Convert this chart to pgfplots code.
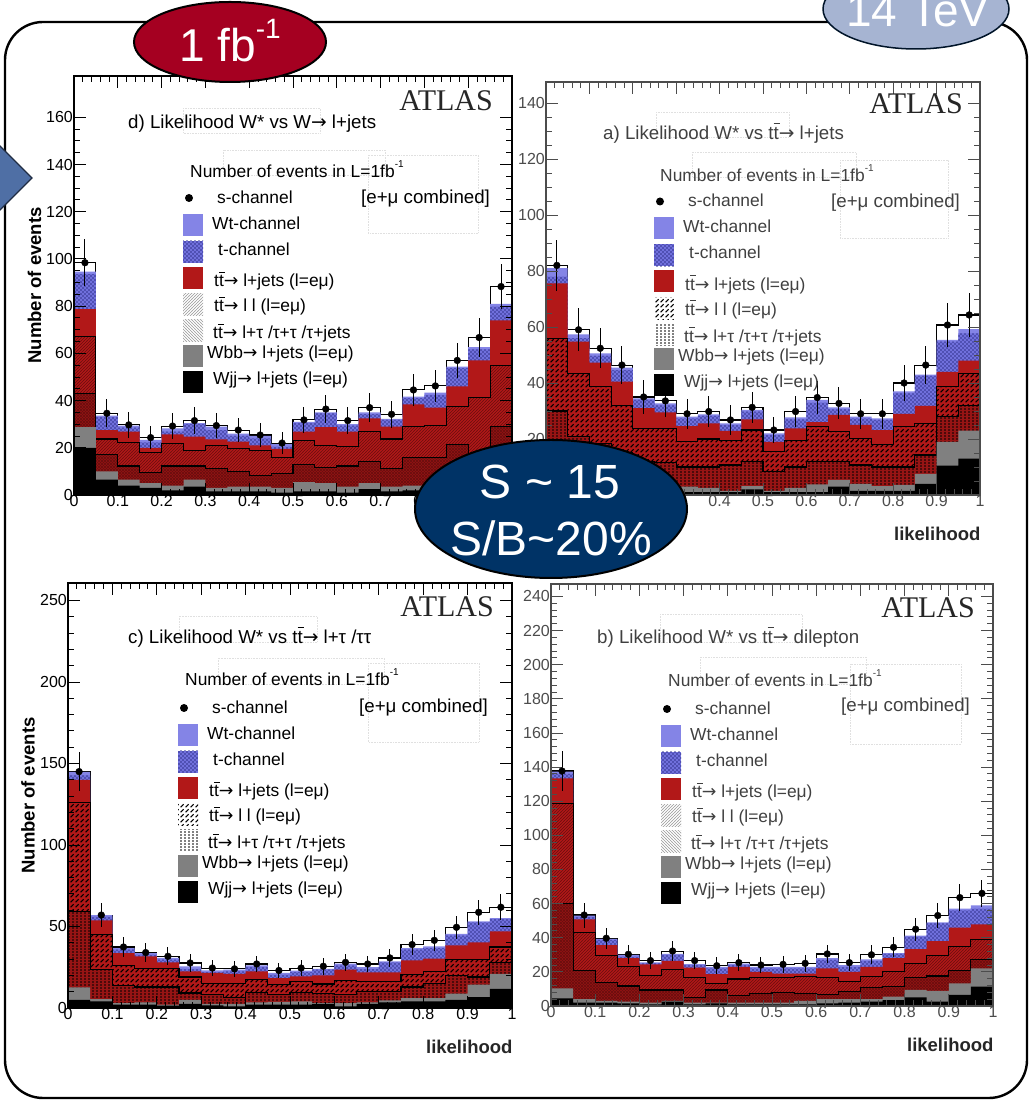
\documentclass[border=0pt]{standalone}
\usepackage{fontspec}
\setmainfont{Liberation Sans}
\newfontfamily\serifatlas{Liberation Serif}
\newfontfamily\djv{DejaVu Sans}
\usepackage{pgfplots}
\usepackage{pgfplotstable}
\pgfplotsset{compat=1.18}
\usetikzlibrary{patterns}
\definecolor{wtc}{HTML}{8484E6}
\definecolor{tc}{HTML}{7070DC}
\definecolor{tdot}{HTML}{30308A}
\definecolor{redc}{HTML}{B21818}
\definecolor{grayc}{HTML}{808080}
\definecolor{ovalred}{HTML}{A50021}
\definecolor{ovalblue}{HTML}{A6B4D2}
\definecolor{ovalnavy}{HTML}{003366}
\definecolor{arrowblue}{HTML}{4F6FA5}
\definecolor{hatchdark}{HTML}{6A0E0E}

\pgfdeclarepatternformonly{fineNE}{\pgfqpoint{-1pt}{-1pt}}{\pgfqpoint{4pt}{4pt}}{\pgfqpoint{3pt}{3pt}}{\pgfsetlinewidth{0.4pt}\pgfpathmoveto{\pgfqpoint{-0.2pt}{-0.2pt}}\pgfpathlineto{\pgfqpoint{3.2pt}{3.2pt}}\pgfusepath{stroke}}
\pgfdeclarepatternformonly{fineCross}{\pgfqpoint{-1pt}{-1pt}}{\pgfqpoint{4pt}{4pt}}{\pgfqpoint{3pt}{3pt}}{\pgfsetlinewidth{0.4pt}\pgfpathmoveto{\pgfqpoint{-0.2pt}{-0.2pt}}\pgfpathlineto{\pgfqpoint{3.2pt}{3.2pt}}\pgfpathmoveto{\pgfqpoint{-0.2pt}{3.2pt}}\pgfpathlineto{\pgfqpoint{3.2pt}{-0.2pt}}\pgfusepath{stroke}}
\pgfdeclarepatternformonly{fineNW}{\pgfqpoint{-1pt}{-1pt}}{\pgfqpoint{4pt}{4pt}}{\pgfqpoint{3pt}{3pt}}{\pgfsetlinewidth{0.55pt}\pgfpathmoveto{\pgfqpoint{-0.2pt}{3.2pt}}\pgfpathlineto{\pgfqpoint{3.2pt}{-0.2pt}}\pgfusepath{stroke}}
\pgfdeclarepatternformonly{dashNE}{\pgfqpoint{-1pt}{-1pt}}{\pgfqpoint{6pt}{6pt}}{\pgfqpoint{5pt}{5pt}}{\pgfsetlinewidth{1.1pt}\pgfpathmoveto{\pgfqpoint{0.6pt}{0.8pt}}\pgfpathlineto{\pgfqpoint{3.6pt}{3.8pt}}\pgfusepath{stroke}}
\pgfdeclarepatternformonly{dotGrid}{\pgfqpoint{-1pt}{-1pt}}{\pgfqpoint{5pt}{4pt}}{\pgfqpoint{4pt}{3pt}}{\pgfpathcircle{\pgfqpoint{1pt}{1pt}}{0.8pt}\pgfusepath{fill}}
\pgfdeclarepatternformonly{blueDots}{\pgfqpoint{-1pt}{-1pt}}{\pgfqpoint{5pt}{5pt}}{\pgfqpoint{4pt}{4pt}}{\pgfpathcircle{\pgfqpoint{1pt}{1pt}}{0.8pt}\pgfpathcircle{\pgfqpoint{3pt}{3pt}}{0.8pt}\pgfusepath{fill}}

% columns: bin left edge, then cumulative stack tops
\pgfplotstableread{
x wjj wbb tau ll red tch wt tot
0.00 20 28.7 43 67 78.7 93.6 94.6 98.4
0.05 6.5 10 17 23.7 27.5 33 33.6 34.6
0.10 4 6.5 12.3 22.3 26.8 28.5 29.4 29.7
0.15 3 5 9.5 18 20 22.3 23.3 24.3
0.20 2 4 12.3 22 25.7 26.8 28.2 29.2
0.25 3.5 6.5 12.3 19 24.7 30 30.4 31.5
0.30 1.5 3 11.3 21 23.6 27.5 29 29.4
0.35 1.5 3.5 10 19.8 22.6 25 26 27.5
0.40 1.5 3.5 8.2 18.8 21 24 25 25.4
0.45 1 3 9 15.8 19.5 20.5 21.5 22
0.50 1.5 5.5 13 23 26.8 30.4 31 31.8
0.55 1.5 5 11.7 21 28.7 34.6 35 36.4
0.60 1 3.5 12.3 20.5 26.8 29.4 30 31.5
0.65 2.5 5 14 27 32.5 34.3 35 37
0.70 1.5 3.5 11.3 23.7 29 31.8 32.2 34.2
0.75 2 4 15.8 29 38.4 41 41.7 44.5
0.80 2 4.5 15.8 29.5 37 42.4 43.4 46.2
0.85 3 7 21.5 37.4 46 53.7 54.4 57
0.90 5 9 17.7 41.4 57 61.7 62.6 66.7
0.95 8 14 29 54.7 74 79.8 81 88.3
1.00 8 14 29 54.7 74 79.8 81 88.3
}\tabd
\pgfplotstableread{
c v e
0.025 98.4 9.9
0.075 34.6 5.9
0.125 29.7 5.4
0.175 24.3 4.9
0.225 29.2 5.4
0.275 31.5 5.6
0.325 29.4 5.4
0.375 27.5 5.2
0.425 25.4 5.0
0.475 22 4.7
0.525 31.8 5.6
0.575 36.4 6.0
0.625 31.5 5.6
0.675 37 6.1
0.725 34.2 5.8
0.775 44.5 6.7
0.825 46.2 6.8
0.875 57 7.5
0.925 66.7 8.2
0.975 88.3 9.4
}\ptsd

\pgfplotstableread{
x wjj wbb tau ll red tch wt tot
0.00 4 10 30 56 75.6 78 81 82
0.05 3.5 8 21 43.5 54.8 56 57.4 59
0.10 3 6 18.5 38.7 47.3 49.7 50.6 52.4
0.15 2.5 5 15 32 40.5 44.6 45.5 46.4
0.20 2 4 12 23.8 31 34 34.5 35
0.25 1.5 3.5 11.5 23.8 29.5 32 32.7 33.6
0.30 1 3 10 19 24.6 27.4 28 29
0.35 1 2.5 10 20 25.6 28.3 28.8 29.8
0.40 1 1.5 10.7 19.4 22.9 25 25.6 26.8
0.45 2 3.2 12 23.2 27 29.8 30.4 31.3
0.50 1 1.5 8.3 15.5 19 21.4 22 23.2
0.55 1 2.5 10 19.6 23.8 27 27.7 29.8
0.60 1 3.8 12 24.4 26 33 34 34.8
0.65 3 5.4 12 22.6 28.6 30.6 31.3 32.7
0.70 1.5 4 10.7 20.2 25 27.4 28 29
0.75 1.5 3.2 10 17.9 23.2 26.8 27.4 29
0.80 1.5 3.6 10 24.4 29 36.3 37 40
0.85 4 7.5 14.3 25.6 31.8 42.5 43 46.4
0.90 10.5 19 28 38.7 44 54.8 55.4 60.7
0.95 13 23 32 43.5 48 57.7 59.2 64.3
1.00 13 23 32 43.5 48 57.7 59.2 64.3
}\taba
\pgfplotstableread{
c v e
0.025 82 9.1
0.075 59 7.7
0.125 52.4 7.2
0.175 46.4 6.8
0.225 35 5.9
0.275 33.6 5.8
0.325 29 5.4
0.375 29.8 5.5
0.425 26.8 5.2
0.475 31.3 5.6
0.525 23.2 4.8
0.575 29.8 5.5
0.625 34.8 5.9
0.675 32.7 5.7
0.725 29 5.4
0.775 29 5.4
0.825 40 6.3
0.875 46.4 6.8
0.925 60.7 7.8
0.975 64.3 8.0
}\ptsa

\pgfplotstableread{
x wjj wbb tau ll red tch wt tot
0.00 5 12.7 59 126 140 142.7 144.8 145
0.05 4 5.5 23.5 45 53.8 56 56.9 57
0.10 2 3 13.7 26.2 33.7 35.8 36.8 37.4
0.15 2 3.5 12.9 24.5 31.7 32.7 33.7 34
0.20 1.5 2 12.9 24.5 28 29.7 30.7 31.7
0.25 2.5 5 9.2 19 22.5 24 25.6 27.6
0.30 1.6 2.5 8.2 15.3 21.5 22 23.1 24.5
0.35 1 2.5 6.5 15.3 21 22.5 23.5 24
0.40 2 3.5 9.6 17.4 22.5 25 26.2 27
0.45 2 3.7 8.2 14.3 18.4 20.4 21.5 23
0.50 2 4 9.6 16.4 19.4 22 23 24.5
0.55 2.6 3 8.8 14.7 20 23.5 24 25.6
0.60 1 3 8.2 17 23.5 26 27.2 28
0.65 2.6 3.5 10.2 16.4 21.9 24 25 27
0.70 3.5 4.7 10.2 16.4 21.9 28 28.6 30.7
0.75 4 6 12.9 20.4 29.2 35.8 36.8 38.9
0.80 4 6 15.3 22.5 30.3 36.8 37.8 41.5
0.85 5 8.8 19.8 29.7 38.4 44.4 45.4 49.5
0.90 6.7 14.3 19 30 40.3 52.5 53.2 58.7
0.95 11.7 21 28 37.4 47 54.6 55.2 61.8
1.00 11.7 21 28 37.4 47 54.6 55.2 61.8
}\tabc
\pgfplotstableread{
c v e
0.025 145 12
0.075 57 7.5
0.125 37.4 6.1
0.175 34 5.8
0.225 31.7 5.6
0.275 27.6 5.3
0.325 24.5 4.9
0.375 24 4.9
0.425 27 5.2
0.475 23 4.8
0.525 24.5 4.9
0.575 25.6 5.1
0.625 28 5.3
0.675 27 5.2
0.725 30.7 5.5
0.775 38.9 6.2
0.825 41.5 6.4
0.875 49.5 7
0.925 58.7 7.7
0.975 61.8 7.9
}\ptsc

\pgfplotstableread{
x wjj wbb tau ll red tch wt tot
0.00 4.5 10.4 60 118.8 133.4 136 137.3 137.7
0.05 2 4 21 43 50.8 52.3 53 53.3
0.10 2 3 14 29.5 35.7 38.7 39.3 39.7
0.15 1.5 2.5 11.7 23 28 29 30 30.3
0.20 1 2 9.4 17.8 24.4 25 25.6 26.6
0.25 2.5 3 9.4 21.5 26.4 30 30.5 32.2
0.30 1 2 5 16.8 22.5 24 24.6 26.6
0.35 1.5 2 9.4 13.3 18.7 22 23 23.6
0.40 1 2 6 15.8 23 24 24.8 25.4
0.45 1 2 7.4 16.6 20 22 23 24
0.50 1 2 7.8 16.8 19 22 23 24.4
0.55 1 3 7.4 17.2 19 22 23 25
0.60 1.5 4 7 16.8 22 27 28 30.5
0.65 2 4 8.4 14.3 20 23 24 25.4
0.70 2.5 4 10.7 17.2 23 26.4 27.3 30
0.75 3.5 5.5 11.3 20 28 30.5 31 34.4
0.80 5 9.4 16.8 25 33.4 40.6 41.2 45
0.85 2.5 8.8 17.6 29.5 38 48.4 49 53
0.90 6.5 13.3 21 34.8 46 56 57 63.5
0.95 11.3 22 27.3 39 47.8 57 59 66
1.00 11.3 22 27.3 39 47.8 57 59 66
}\tabb
\pgfplotstableread{
c v e
0.025 137.7 11.7
0.075 53.3 7.3
0.125 39.7 6.3
0.175 30.3 5.5
0.225 26.6 5.2
0.275 32.2 5.7
0.325 26.6 5.2
0.375 23.6 4.9
0.425 25.4 5
0.475 24 4.9
0.525 24.4 4.9
0.575 25 5
0.625 30.5 5.5
0.675 25.4 5
0.725 30 5.5
0.775 34.4 5.9
0.825 45 6.7
0.875 53 7.3
0.925 63.5 8
0.975 66 8.1
}\ptsb

\newcommand{\layer}[3]{\addplot[const plot mark left,#3] table[x=x,y=#2]{#1}\closedcycle;}
\newcommand{\layers}[5]{%
 \layer{#1}{tot}{draw=black,line width=1.1pt,fill=white}
 \layer{#1}{wt}{draw=none,fill=wtc}
 \layer{#1}{tch}{draw=none,fill=tc}
 \layer{#1}{tch}{draw=none,pattern=blueDots,pattern color=tdot}
 \layer{#1}{red}{draw=none,fill=redc}
 \layer{#1}{ll}{draw=none,fill=redc}
 \layer{#1}{ll}{draw=black,line width=1.1pt,pattern=#3,pattern color=#5}
 \layer{#1}{tau}{draw=none,fill=redc!85!black}
 \layer{#1}{tau}{draw=black,line width=1.1pt,pattern=#4,pattern color=#5}
 \layer{#1}{wbb}{draw=none,fill=grayc}
 \layer{#1}{wjj}{draw=none,fill=black}
 \addplot[only marks,mark=*,mark size=3.4pt,black,error bars/.cd,y dir=both,y explicit,error bar style={line width=1pt,black},error mark=none] table[x=c,y=v,y error=e]{#2};
}
\pgfplotsset{
 panel/.style={
  scale only axis,anchor=south west,xmin=0,xmax=1,ymin=0,
  xtick={0,0.1,0.2,0.3,0.4,0.5,0.6,0.7,0.8,0.9,1},
  xticklabels={0,0.1,0.2,0.3,0.4,0.5,0.6,0.7,0.8,0.9,1},
  minor x tick num=4,
  /pgf/number format/assume math mode=true,
  /pgf/number format/1000 sep={},
  tick label style={font=\fontsize{16}{16}\selectfont,text=#1},
  xticklabel style={inner sep=0pt,yshift=0pt},
  yticklabel style={inner sep=1pt},
  tick align=inside,major tick length=12pt,minor tick length=6pt,
  axis line style={line width=1.1pt,draw=#1},
  every tick/.style={line width=0.9pt,draw=#1},
  axis on top,
  clip=true,
 },
 xl/.style={xlabel={likelihood},xlabel style={font=\fontsize{18.5}{18.5}\selectfont\bfseries,text=black!85,at={(axis description cs:1,0)},anchor=north east,yshift=-29pt,xshift=4pt}},
 yl/.style={ylabel={Number of events},ylabel style={font=\fontsize{18.5}{18.5}\selectfont\bfseries,at={(axis description cs:-0.09,0.5)},anchor=center}},
}
\newcommand\tb{\leavevmode\rlap{\raisebox{0.82em}{\rule{0.34em}{0.06em}}}t}
\newcommand\arr{{\djv→}}
\newcommand{\lfont}{\fontsize{17.4}{17.4}\selectfont}
\newcommand{\tfont}{\fontsize{18.7}{18.7}\selectfont}
% legend block, drawn in the coordinates of panel d and shifted
\newcommand{\legblock}[6]{%
 \begin{scope}[shift={(#1,#2)},every node/.style={anchor=west,inner sep=0pt,font=\lfont,text=#6}]
  \fill[black] (189,198) circle (4pt);
  \fill[wtc] (183,214) rectangle (203,236);
  \fill[tc] (183,241) rectangle (203,263);
  \path[pattern=blueDots,pattern color=tdot] (183,241) rectangle (203,263);
  \fill[redc] (183,267) rectangle (203,289);
  \path[pattern=#3,pattern color=#5] (183,294) rectangle (203,316);
  \path[pattern=#4,pattern color=#5] (183,320) rectangle (203,342);
  \fill[grayc] (183,345) rectangle (203,367);
  \fill[black] (183,371) rectangle (203,393);
  \node at (217,197) {s-channel};
  \node at (212,223) {Wt-channel};
  \node at (218,249) {t-channel};
  \node at (214,281) {t\tb\arr{} l+jets (l=eμ)};
  \node at (214,306) {t\tb\arr{} l l (l=eμ)};
  \node at (213,333) {t\tb\arr{} l+τ /τ+τ /τ+jets};
  \node at (207,354) {Wbb\arr{} l+jets (l=eμ)};
  \node at (213,380) {Wjj\arr{} l+jets (l=eμ)};
 \end{scope}}
\newcommand{\headers}[9]{%
 \node[anchor=west,inner sep=0pt,font=\tfont,text=#9] at (#1,#2) {#3};
 \node[anchor=west,inner sep=0pt,font=\lfont,text=#9] at (#4,#5) {Number of events in L=1fb\raisebox{0.55em}{\fontsize{10}{10}\selectfont -1}};
 \node[anchor=west,inner sep=0pt,font=\tfont,text=#9] at (#6,#7) {[e+μ combined]};
 \node[anchor=east,inner sep=0pt,font=\fontsize{30}{30}\serifatlas,text=black!85] at #8 {ATLAS};
}
\newcommand{\faintbox}[4]{\draw[black!12,densely dotted,line width=0.6pt] (#1,#2) rectangle (#3,#4);}
\begin{document}
\begin{tikzpicture}[x=1pt,y=1pt]
\path[use as bounding box,clip] (0,0) rectangle (1029,1103);

\begin{axis}[panel=black,yl,at={(74pt,608pt)},width=438pt,height=419pt,ymax=177.5,ytick={0,20,40,60,80,100,120,140,160},minor y tick num=3]
\layers{\tabd}{\ptsd}{fineNE}{fineCross}{hatchdark}
\end{axis}
\begin{axis}[panel=black!70,xl,at={(546pt,608pt)},width=434pt,height=413pt,ymax=147.5,ytick={0,20,40,60,80,100,120,140},minor y tick num=3]
\layers{\taba}{\ptsa}{dashNE}{dotGrid}{black}
\end{axis}
\begin{axis}[panel=black,xl,yl,at={(68pt,95pt)},width=444pt,height=425pt,ymax=260.7,ytick={0,50,100,150,200,250},minor y tick num=4]
\layers{\tabc}{\ptsc}{dashNE}{dotGrid}{black}
\end{axis}
\begin{axis}[panel=black!70,xl,at={(551pt,97pt)},width=442pt,height=422pt,ymax=247.3,ytick={0,20,40,60,80,100,120,140,160,180,200,220,240},minor y tick num=4]
\layers{\tabb}{\ptsb}{fineNE}{fineCross}{hatchdark}
\end{axis}

\begin{scope}[y=-1pt,yshift=1103pt]
 % faint frames left around the labels
 \faintbox{183}{108}{320}{133}\faintbox{223}{150}{385}{175}\faintbox{368}{155}{478}{233}
 \faintbox{656}{112}{789}{137}\faintbox{692}{152}{856}{177}\faintbox{840}{160}{948}{238}
 \faintbox{179}{616}{317}{642}\faintbox{218}{658}{384}{684}\faintbox{368}{663}{479}{742}
 \faintbox{660}{614}{802}{642}\faintbox{700}{657}{866}{684}\faintbox{850}{664}{961}{744}

 \legblock{0}{0}{fineNE}{fineNW}{black!40}{black}
 \legblock{471}{3.5}{dashNE}{dotGrid}{black}{black!75}
 \legblock{-5}{510}{dashNE}{dotGrid}{black}{black}
 \legblock{478}{511}{fineNE}{fineNW}{black!40}{black!75}

 \headers{128}{124}{d) Likelihood W* vs W\arr{} l+jets}{190}{169}{361}{199}{(493,101)}{black}
 \headers{603}{133}{a) Likelihood W* vs t\tb\arr{} l+jets}{660}{173}{831}{203}{(963,104)}{black!75}
 \headers{128}{637}{c) Likelihood W* vs t\tb\arr{} l+τ /ττ}{185}{677}{359}{708}{(494,607)}{black}
 \headers{597}{637}{b) Likelihood W* vs t\tb\arr{} dilepton}{668}{678}{841}{707}{(975,608)}{black!75}

 % outline
 \draw[black,line width=2.4pt,rounded corners=38pt] (5,22) rectangle (1027,1098);
 % left arrow
 \draw[black!60!arrowblue,fill=arrowblue,line width=1.2pt] (-3,143) -- (32,178) -- (-3,213) -- cycle;
 % 1 fb-1
 \draw[black,fill=ovalred,line width=2pt] (230,42) ellipse [x radius=96pt,y radius=40pt];
 \node[text=white,font=\fontsize{46}{46}\selectfont,inner sep=0pt,anchor=base] at (230,62) {1 fb\raisebox{0.5em}{\fontsize{28}{28}\selectfont -1}};
 % 14 TeV
 \draw[black!60!ovalnavy,fill=ovalblue,line width=1.5pt] (916,9) ellipse [x radius=93pt,y radius=40pt];
 \node[text=white,font=\fontsize{46}{46}\selectfont,inner sep=0pt,anchor=base] at (918,27) {14 TeV};
 % S ~ 15
 \draw[black,fill=ovalnavy,line width=2pt] (551,509) ellipse [x radius=136pt,y radius=69pt];
 \node[text=white,font=\fontsize{48}{48}\selectfont,inner sep=0pt,anchor=base] at (550,499) {S \char`\~{} 15};
 \node[text=white,font=\fontsize{48}{48}\selectfont,inner sep=0pt,anchor=base] at (551,556) {S/B\char`\~{}20\%};
\end{scope}
\end{tikzpicture}
\end{document}
